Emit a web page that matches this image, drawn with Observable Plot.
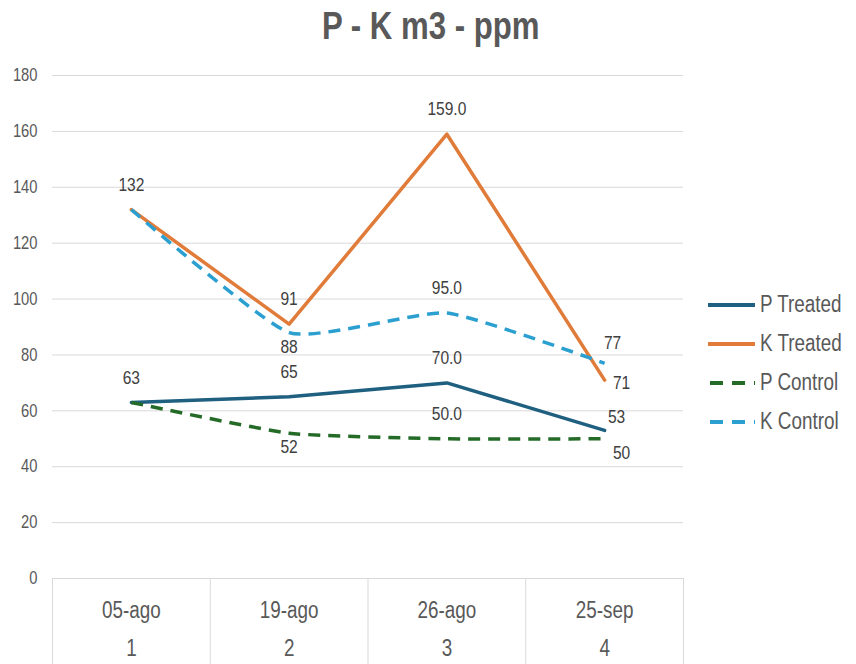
<!DOCTYPE html>
<html>
<head>
<meta charset="utf-8">
<script src="https://cdn.jsdelivr.net/npm/d3@7"></script>
<script src="https://cdn.jsdelivr.net/npm/@observablehq/plot@0.6"></script>
<style>
  body { margin: 0; background: #fff; }
  #wrap { position: relative; width: 856px; height: 664px; overflow: hidden; background: #fff;
          font-family: "Liberation Sans", Arial, sans-serif; color: #595959; }
  #title { position: absolute; top: 3px; left: 3px; width: 856px; text-align: center;
           font-size: 38px; font-weight: bold; line-height: 46px; white-space: nowrap; }
  #title span { display: inline-block; transform: scaleX(0.82); transform-origin: center; }
  #chart { position: absolute; top: 55px; left: 0; }
  #legend { position: absolute; left: 708px; top: 285px; }
  .item { display: flex; align-items: center; height: 39px; font-size: 23px; white-space: nowrap; }
  .item svg { margin-right: 4px; flex: none; }
  .item span { display: inline-block; transform: scaleX(0.82); transform-origin: left center; }
</style>
</head>
<body>
<div id="wrap">
  <div id="title"><span>P - K m3 - ppm</span></div>
  <div id="chart"></div>
  <div id="legend"></div>
</div>
<script>
// Sampling dates and their sequence numbers
const dates = ["05-ago", "19-ago", "26-ago", "25-sep"];
const steps = [1, 2, 3, 4];

// Concentrations (ppm)
const pTreated = [63, 65, 70, 53];
const kTreated = [132, 91, 159, 71];
const pControl = [63, 52, 50, 50];
const kControl = [132, 88, 95, 77];

const yTicks = [0, 20, 40, 60, 80, 100, 120, 140, 160, 180];

// Series styling and where each point's value label sits ("none" = shared with another series)
const series = [
  {name: "P Treated", values: pTreated, color: "#1f5f80", dash: null, curve: "linear",
   place: ["above", "above", "above", "aboveRight"]},
  {name: "K Treated", values: kTreated, color: "#e07b39", dash: null, curve: "linear",
   place: ["above", "above", "above", "right"]},
  {name: "P Control", values: pControl, color: "#236b27", dash: "12,8", curve: "cardinal",
   place: ["none", "below", "above", "belowRight"]},
  {name: "K Control", values: kControl, color: "#2ba0d0", dash: "12,8", curve: "cardinal",
   place: ["none", "below", "above", "aboveRightHigh"]}
];

const offsets = {
  above: {dx: 0, dy: -25},
  below: {dx: 0, dy: 14},
  right: {dx: 17, dy: 3},
  aboveRight: {dx: 12, dy: -13},
  aboveRightHigh: {dx: 8, dy: -20},
  belowRight: {dx: 17, dy: 14}
};

const rows = series.flatMap(s => s.values.map((v, i) => ({
  series: s.name, step: steps[i], value: v,
  label: i === 2 ? v.toFixed(1) : String(v), place: s.place[i]
})));

const boundaries = steps.map(s => s - 0.5).concat(steps[steps.length - 1] + 0.5);

const marks = [
  Plot.gridY(yTicks, {stroke: "#d9d9d9", strokeOpacity: 1, strokeWidth: 1}),
  Plot.ruleX(boundaries, {y1: 0, y2: -40, stroke: "#d9d9d9", strokeWidth: 1}),
  Plot.axisY(yTicks, {tickSize: 0, tickPadding: 15, fontSize: 18, fill: "#595959", label: null}),
  Plot.text(steps, {x: d => d, y: 0, text: (d, i) => dates[i], dy: 32, fontSize: 23, fill: "#595959"}),
  Plot.text(steps, {x: d => d, y: 0, text: d => String(d), dy: 70, fontSize: 23, fill: "#595959"})
];

for (const s of series) {
  marks.push(Plot.line(rows.filter(r => r.series === s.name), {
    x: "step", y: "value", stroke: s.color, strokeWidth: 3.5,
    strokeDasharray: s.dash, strokeLinecap: s.dash ? "butt" : "round",
    curve: s.curve, tension: 0.5
  }));
}

for (const [place, off] of Object.entries(offsets)) {
  marks.push(Plot.text(rows.filter(r => r.place === place), {
    x: "step", y: "value", text: "label", dx: off.dx, dy: off.dy,
    fontSize: 19, fill: "#404040"
  }));
}

const chart = Plot.plot({
  width: 856, height: 609,
  marginTop: 20, marginBottom: 86, marginLeft: 52, marginRight: 173,
  style: {fontFamily: "'Liberation Sans', Arial, sans-serif", background: "transparent"},
  x: {type: "linear", domain: [boundaries[0], boundaries[boundaries.length - 1]], axis: null},
  y: {domain: [0, 180], axis: null},
  marks
});
document.getElementById("chart").appendChild(chart);

// Condensed lettering: narrow each label horizontally about its own anchor point
const squeeze = 0.82;
chart.querySelectorAll("text").forEach(el => {
  const bb = el.getBBox();
  const anchor = getComputedStyle(el).textAnchor;
  const ax = anchor === "middle" ? bb.x + bb.width / 2 : anchor === "end" ? bb.x + bb.width : bb.x;
  const t = el.getAttribute("transform") || "";
  el.setAttribute("transform", `${t} translate(${ax},0) scale(${squeeze},1) translate(${-ax},0)`.trim());
});

// Legend: line swatch + series name
const legend = document.getElementById("legend");
for (const s of series) {
  const item = document.createElement("div");
  item.className = "item";
  item.innerHTML =
    `<svg width="48" height="10"><line x1="0" y1="5" x2="47" y2="5" stroke="${s.color}" stroke-width="4"` +
    (s.dash ? ` stroke-dasharray="13,9" stroke-dashoffset="-2"` : "") + `/></svg><span>${s.name}</span>`;
  legend.appendChild(item);
}
</script>
</body>
</html>
